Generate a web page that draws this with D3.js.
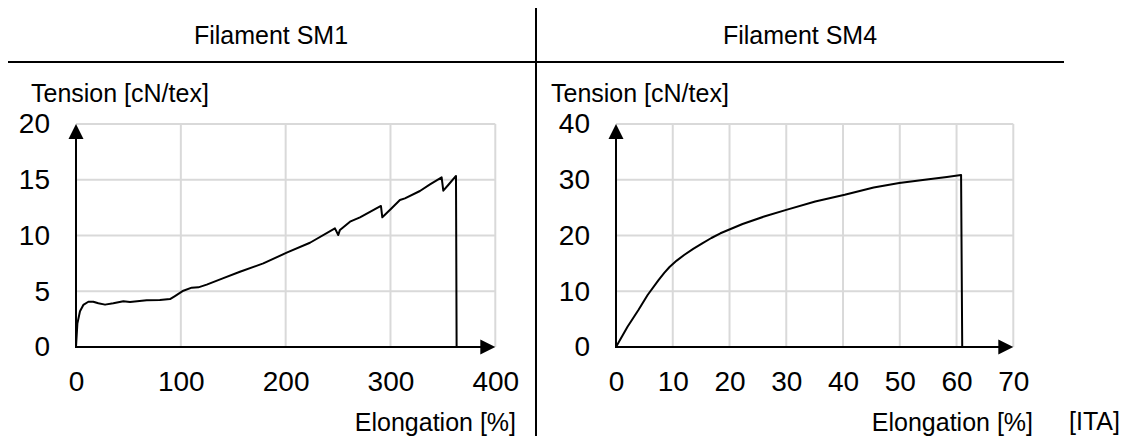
<!DOCTYPE html>
<html>
<head>
<meta charset="utf-8">
<script src="https://cdn.jsdelivr.net/npm/d3@7"></script>
<style>
  body { margin: 0; background: #fff; }
  svg text { font-family: "Liberation Sans", Arial, sans-serif; fill: #000; }
  .tick text { font-size: 28px; }
  .axisLabel, .title { font-size: 25px; }
</style>
</head>
<body>
<div id="chart"></div>
<script>
// Filament SM1: elongation [%] vs tension [cN/tex]
const sm1Elong = [0, 1.3, 3.8, 7, 11.8, 16.5, 21.3, 27.7, 35.6, 45.2, 51.5, 67.4, 80, 89.7, 94.4, 102.4, 110.4, 116.7, 124.7, 140, 156.4, 178.7, 201, 223.2, 247, 250.2, 251.8, 261.4, 270.9, 290.9, 292.2, 301.1, 309, 313.8, 328.1, 337.7, 348.8, 350.4, 355.1, 362.5, 363.1];
const sm1Tension = [0, 2.1, 3.2, 3.77, 4.06, 4.06, 3.92, 3.8, 3.92, 4.1, 4.04, 4.19, 4.22, 4.3, 4.57, 5.05, 5.32, 5.35, 5.59, 6.15, 6.75, 7.5, 8.46, 9.35, 10.64, 10.04, 10.5, 11.24, 11.63, 12.65, 11.63, 12.44, 13.18, 13.33, 13.99, 14.59, 15.22, 14.02, 14.53, 15.34, 0];

// Filament SM4
const sm4Elong = [0, 2.03, 3.95, 5.57, 7.49, 8.5, 9.43, 10.7, 12, 13.6, 15.2, 16.8, 18.4, 22.3, 26.1, 30, 35.1, 40.3, 45.4, 49.9, 54.4, 58.3, 60.8, 61];
const sm4Tension = [0, 3.64, 6.64, 9.33, 12, 13.3, 14.35, 15.5, 16.5, 17.6, 18.6, 19.55, 20.4, 22.06, 23.4, 24.6, 26.1, 27.3, 28.6, 29.4, 30, 30.5, 30.85, 0];

// ticks
const sm1XTicks = [0, 100, 200, 300, 400];
const sm1YTicks = [0, 5, 10, 15, 20];
const sm4XTicks = [0, 10, 20, 30, 40, 50, 60, 70];
const sm4YTicks = [0, 10, 20, 30, 40];

const titles = ["Filament SM1", "Filament SM4"];
const yLabel = "Tension [cN/tex]";
const xLabel = "Elongation [%]";
const source = "[ITA]";

const W = 1132, H = 441;
const y_bottom = 347, y_top = 124;

const svg = d3.select("#chart").append("svg")
    .attr("width", W)
    .attr("height", H);

// frame lines: header rule and divider
svg.append("line")
    .attr("x1", 8).attr("x2", 1064)
    .attr("y1", 62).attr("y2", 62)
    .attr("stroke", "#000").attr("stroke-width", 2);
svg.append("line")
    .attr("x1", 536).attr("x2", 536)
    .attr("y1", 8).attr("y2", 436)
    .attr("stroke", "#000").attr("stroke-width", 2);

const panels = [
    {title: titles[0], titleX: 271, xs: sm1Elong, ys: sm1Tension, xTicks: sm1XTicks, yTicks: sm1YTicks,
     left: 76, right: 495.3, yLabelX: 31, xLabelRight: 516},
    {title: titles[1], titleX: 800, xs: sm4Elong, ys: sm4Tension, xTicks: sm4XTicks, yTicks: sm4YTicks,
     left: 616, right: 1013.3, yLabelX: 551, xLabelRight: 1033}
];

panels.forEach(p => {
    const g = svg.append("g");

    const xScale = d3.scaleLinear()
        .domain([0, d3.max(p.xTicks)])
        .range([p.left, p.right]);
    const yScale = d3.scaleLinear()
        .domain([0, d3.max(p.yTicks)])
        .range([y_bottom, y_top]);

    // grid
    g.append("g")
        .selectAll("line")
        .data(p.xTicks.slice(1))
        .join("line")
            .attr("x1", d => xScale(d)).attr("x2", d => xScale(d))
            .attr("y1", yScale(0)).attr("y2", yScale.range()[1])
            .attr("stroke", "#d9d9d9").attr("stroke-width", 2);
    g.append("g")
        .selectAll("line")
        .data(p.yTicks.slice(1))
        .join("line")
            .attr("x1", xScale(0)).attr("x2", xScale.range()[1])
            .attr("y1", d => yScale(d)).attr("y2", d => yScale(d))
            .attr("stroke", "#d9d9d9").attr("stroke-width", 2);

    // tick labels via d3 axes
    const xAxis = d3.axisBottom(xScale).tickValues(p.xTicks).tickSize(0).tickPadding(24);
    g.append("g")
        .attr("transform", "translate(0," + y_bottom + ")")
        .call(xAxis)
        .call(a => a.select(".domain").remove());

    const yAxis = d3.axisLeft(yScale).tickValues(p.yTicks).tickSize(0).tickPadding(26);
    g.append("g")
        .attr("transform", "translate(" + p.left + ",0)")
        .call(yAxis)
        .call(a => a.select(".domain").remove());

    g.selectAll(".tick text").attr("font-family", null).attr("font-size", null);

    // curve
    const pts = p.xs.map((x, i) => [x, p.ys[i]]);
    const line = d3.line()
        .x(d => xScale(d[0]))
        .y(d => yScale(d[1]));
    g.append("path")
        .attr("d", line(pts))
        .attr("fill", "none")
        .attr("stroke", "#000")
        .attr("stroke-width", 2)
        .attr("stroke-linejoin", "round");

    // axes with arrows
    const x0 = xScale(0), x1 = xScale.range()[1];
    const y0 = yScale(0), y1 = yScale.range()[1];
    g.append("line")
        .attr("x1", x0).attr("x2", x1 - 10)
        .attr("y1", y0).attr("y2", y0)
        .attr("stroke", "#000").attr("stroke-width", 2);
    g.append("line")
        .attr("x1", x0).attr("x2", x0)
        .attr("y1", y0 + 1).attr("y2", y1 + 10)
        .attr("stroke", "#000").attr("stroke-width", 2);
    g.append("path")
        .attr("d", `M${x1},${y0} L${x1 - 15},${y0 - 7.5} L${x1 - 15},${y0 + 7.5} Z`)
        .attr("fill", "#000");
    g.append("path")
        .attr("d", `M${x0},${y1} L${x0 - 7.5},${y1 + 15} L${x0 + 7.5},${y1 + 15} Z`)
        .attr("fill", "#000");

    // labels
    g.append("text")
        .attr("class", "title")
        .attr("x", p.titleX).attr("y", 44)
        .attr("text-anchor", "middle")
        .text(p.title);
    g.append("text")
        .attr("class", "axisLabel")
        .attr("x", p.yLabelX).attr("y", 102)
        .text(yLabel);
    g.append("text")
        .attr("class", "axisLabel")
        .attr("x", p.xLabelRight).attr("y", 431)
        .attr("text-anchor", "end")
        .text(xLabel);
});

svg.append("text")
    .attr("class", "axisLabel")
    .attr("x", 1069).attr("y", 430)
    .text(source);
</script>
</body>
</html>
